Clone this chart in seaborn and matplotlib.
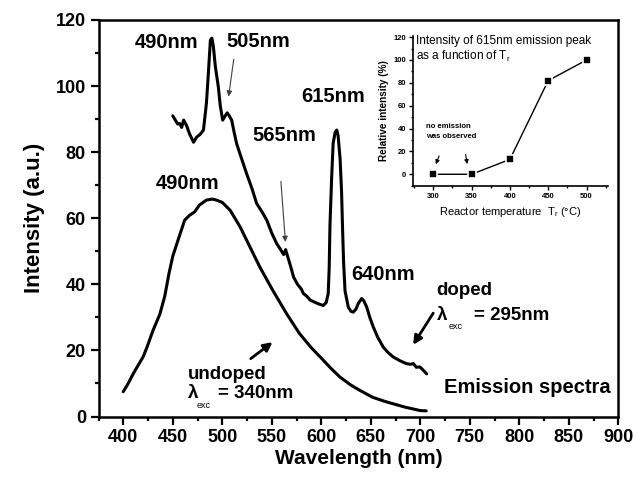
import numpy as np
import pandas as pd
import seaborn as sns
import matplotlib.pyplot as plt
from matplotlib.ticker import MultipleLocator

# doped spectrum (lambda_exc = 295nm)
doped_nm = [450, 452, 455, 457, 459, 461, 464, 467, 471, 474, 478, 481, 484, 486, 488, 489.5,
            491, 493, 496, 498, 500.4, 503, 505, 507, 509.5, 512, 514.5, 519, 524.6, 530, 534.7,
            540, 545, 550, 555, 559, 562, 564, 566, 569, 572, 576, 580, 582, 585, 589, 594, 598,
            602, 605, 607, 608, 608.8, 610.5, 612, 614, 615.6, 617, 619, 620.5, 621.5, 622.5,
            624, 627.3, 630, 632.4, 635, 637.4, 640.8, 643, 645.9, 649, 652.5, 657, 662.6, 667,
            672.7, 680, 686, 690, 693, 696, 699.7, 703, 706.5]
doped_int = [91, 90, 88.5, 88.7, 87.5, 89.7, 88, 85.5, 83, 84.5, 85.5, 86.7, 94.8, 104, 113.9, 114.5,
             112, 106, 99.8, 94, 89.7, 91, 91.9, 91, 89.7, 86, 82.6, 78.5, 73.5, 69, 64.5,
             62, 59.4, 55.5, 52.3, 50.5, 49, 50.5, 48.5, 45.5, 42.2, 40, 38.5, 37.2, 36.5, 35.2, 34.5, 34,
             33.6, 34.5, 37.2, 45, 58, 72.5, 82.7, 86, 86.7, 85, 78, 68, 57, 47,
             38, 33.1, 31.8, 31.6, 32.5, 34.2, 35.7, 35, 33.1, 30, 27.1, 24, 21, 19.5,
             18, 16.8, 16, 15.8, 16, 14.9, 15, 14, 12.9]

# undoped spectrum (lambda_exc = 340nm)
undoped_nm = [400, 405, 410, 415, 420, 424, 430, 437, 442, 446, 450, 456, 462, 467, 472, 477, 484,
              490, 494, 500, 508, 518, 528, 538, 551, 565, 578, 590, 599, 610, 619, 630, 639, 652,
              665, 672, 685, 700, 706]
undoped_int = [7.5, 10, 12.9, 15.5, 18, 21, 26, 31, 36.5, 43, 48.5, 54, 59.4, 60.9, 61.9, 64, 65.5,
               65.8, 65.5, 64.8, 62.4, 57.4, 51.3, 45.2, 38.2, 31.1, 25.1, 20.8, 18, 14.5, 11.9, 9.5, 7.9, 5.8,
               4.5, 3.9, 2.8, 1.8, 1.7]

# inset: 615nm peak vs reactor temperature
temps = [300, 350, 400, 450, 500]
rel_int = [0, 0, 13, 82, 100]

sns.set_style("ticks")
plt.rcParams['font.family'] = ['Liberation Sans', 'DejaVu Sans']
plt.rcParams['mathtext.default'] = 'regular'
for k in ['text.color', 'axes.labelcolor', 'xtick.color', 'ytick.color', 'axes.edgecolor']:
    plt.rcParams[k] = 'black'

fig = plt.figure(figsize=(6.36, 4.78), dpi=100)
ax = fig.add_axes([98.5/636, 1-416.5/478, (618.3-98.5)/636, (416.5-20)/478])

sns.lineplot(x=doped_nm, y=doped_int, ax=ax, color='black', lw=2.2, sort=False)
sns.lineplot(x=undoped_nm, y=undoped_int, ax=ax, color='black', lw=2.2, sort=False)

ax.set_xlim(375, 900)
ax.set_ylim(0, 120)
ax.xaxis.set_major_locator(MultipleLocator(50))
ax.xaxis.set_minor_locator(MultipleLocator(25))
ax.yaxis.set_major_locator(MultipleLocator(20))
ax.yaxis.set_minor_locator(MultipleLocator(10))
ax.tick_params(which='major', direction='out', length=6, width=1.6, labelsize=13, pad=3)
ax.tick_params(which='minor', direction='out', length=3, width=1.6)
for lab in ax.get_xticklabels() + ax.get_yticklabels():
    lab.set_fontweight('bold')
for sp in ax.spines.values():
    sp.set_linewidth(1.8)
    sp.set_visible(True)
ax.set_xlabel("Wavelength (nm)", fontsize=15, fontweight='bold', labelpad=2)
ax.set_ylabel("Intensity (a.u.)", fontsize=16, fontweight='bold', labelpad=8)

bold = dict(fontsize=14.5, fontweight='bold', va='center')
ax.text(444, 113.3, "490nm", ha='center', **bold)
ax.text(536, 113.6, "505nm", ha='center', **bold)
ax.text(612, 96.7, "615nm", ha='center', **bold)
ax.text(562.5, 85, "565nm", ha='center', **bold)
ax.text(465, 70.6, "490nm", ha='center', **bold)
ax.text(662, 43, "640nm", ha='center', **bold)
ax.text(892, 8.8, "Emission spectra", ha='right', **bold)

lab = dict(fontsize=13.5, fontweight='bold', va='center')
ax.text(465.5, 12.7, "undoped", ha='left', **lab)
ax.text(465.5, 7.0, "λ", ha='left', **lab)
ax.text(474.5, 3.4, "exc", ha='left', va='center', fontsize=6.5)
ax.text(496, 7.0, "= 340nm", ha='left', **lab)
ax.text(716.5, 38.2, "doped", ha='left', **lab)
ax.text(716.5, 30.6, "λ", ha='left', **lab)
ax.text(729, 27.2, "exc", ha='left', va='center', fontsize=6.5)
ax.text(754, 30.6, "= 295nm", ha='left', **lab)

thin = dict(arrowstyle='-|>', lw=0.8, color='0.25', mutation_scale=8)
thick = dict(arrowstyle='-|>', lw=2.0, color='black', mutation_scale=13)
ax.annotate("", xy=(506, 96), xytext=(512, 109), arrowprops=thin)
ax.annotate("", xy=(564, 52), xytext=(559, 72), arrowprops=thin)
ax.annotate("", xy=(553, 23), xytext=(526.5, 17), arrowprops=thick)
ax.annotate("", xy=(691.3, 21), xytext=(714.6, 32), arrowprops=thick)

# inset
ins = fig.add_axes([413.3/636, 1-185.7/478, (608-413.3)/636, (185.7-36)/478])
sns.lineplot(x=temps, y=rel_int, ax=ins, color='black', lw=1.0, marker='s', markersize=5.5,
             markeredgecolor='white', markeredgewidth=1.2, markerfacecolor='black', sort=False)
ins.set_xlim(274, 528)
ins.set_ylim(-10, 121)
ins.xaxis.set_major_locator(MultipleLocator(50))
ins.xaxis.set_minor_locator(MultipleLocator(25))
ins.yaxis.set_major_locator(MultipleLocator(20))
ins.yaxis.set_minor_locator(MultipleLocator(10))
ins.tick_params(which='major', direction='out', length=3, width=1.0, labelsize=5.5, pad=2)
ins.tick_params(which='minor', direction='out', length=1.5, width=1.0)
for lab_ in ins.get_xticklabels() + ins.get_yticklabels():
    lab_.set_fontweight('bold')
ins.spines['top'].set_visible(False)
ins.spines['right'].set_visible(False)
ins.spines['left'].set_linewidth(1.2)
ins.spines['bottom'].set_linewidth(1.2)
ins.set_xlabel("Reactor temperature  T$_r$ (°C)", fontsize=8, labelpad=4)
ins.set_ylabel("Relative intensity (%)", fontsize=7.2, fontweight='bold', labelpad=3)
ins.text(277, 116.8, "Intensity of 615nm emission peak", fontsize=8.5, ha='left', va='center')
ins.text(277, 102.7, "as a function of T$_r$", fontsize=8.5, ha='left', va='center')
ins.text(291, 41.9, "no emission", fontsize=5.5, fontweight='bold', ha='left', va='center')
ins.text(291, 33, "was observed", fontsize=5.5, fontweight='bold', ha='left', va='center')
sm = dict(arrowstyle='-|>', lw=0.8, color='black', mutation_scale=6)
ins.annotate("", xy=(302, 6.5), xytext=(309, 18.3), arrowprops=sm)
ins.annotate("", xy=(345, 6.5), xytext=(341.6, 19.7), arrowprops=sm)

fig.savefig("out.png", dpi=100)
